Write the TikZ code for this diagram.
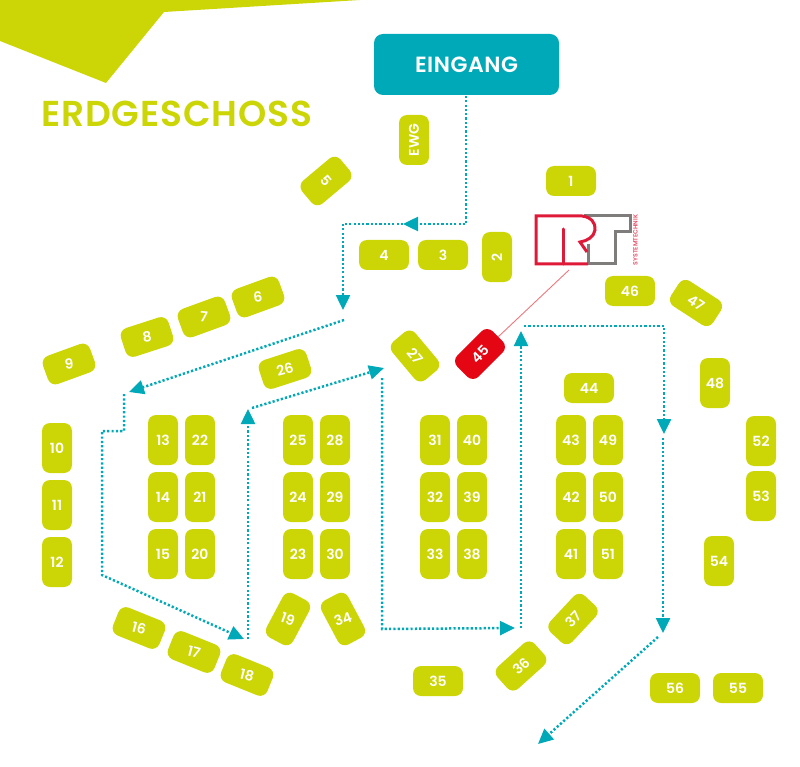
\documentclass[tikz,border=0pt]{standalone}
\usepackage{fontspec}
\setmainfont{Poppins}[BoldFont={Poppins SemiBold}]
\newfontfamily\widefont{Poppins SemiBold}[LetterSpace=2.5]
\usetikzlibrary{arrows.meta}
\definecolor{lime}{HTML}{CCD607}
\definecolor{teal1}{HTML}{00A9B7}
\definecolor{red1}{HTML}{E40613}
\definecolor{rtred}{HTML}{DF1A38}
\definecolor{rtgray}{HTML}{7F7C7C}
\tikzset{
  standbase/.style={fill=lime,draw=none,rounded corners=8,inner sep=0pt,text=white,font=\fontsize{14}{14}\selectfont\bfseries,anchor=center},
  hbox/.style={standbase,minimum width=50,minimum height=30},
  vbox/.style={standbase,minimum width=30,minimum height=50},
  standlabel/.style={text=white,font=\fontsize{14}{14}\selectfont\bfseries,inner sep=0pt},
  route/.style={draw=teal1,line width=2.5,dash pattern=on 2.2 off 2.1},
  arrowroute/.style={route,-{Triangle[length=15,width=14,color=teal1,fill=teal1]}},
}
\newcommand{\stand}[6]{% name, x, y, box rotation, text rotation, label
  \node[hbox,rotate=#4] (#1) at (#2,#3) {};
  \node[standlabel,rotate=#5] (#1t) at (#2,#3) {#6};
}
\begin{document}
\begin{tikzpicture}[x=1pt,y=-1pt]
\useasboundingbox (0,0) rectangle (800,767);
% banner
\fill[lime] (0,0) -- (360,0) -- (164,12) -- (106,83) -- (0,41) -- cycle;
\node[anchor=base west,inner sep=0pt,text=lime,font=\fontsize{36}{36}\widefont] (title) at (41,126.5) {ERDGESCHOSS};
% entrance
\node[fill=teal1,rounded corners=9,minimum width=185,minimum height=61,inner sep=0pt,text=white,font=\fontsize{22}{22}\widefont] (eingang) at (466.5,64.5) {\raisebox{-2pt}{EINGANG}};
% vertical, straight
\foreach \n/\x/\y in {10/57/448,11/57/505,12/57/562,
  13/163/440,22/200/440,14/163/497,21/200/497,15/163/554,20/200/554,
  25/298/440,28/335/440,24/298/497,29/335/497,23/298/554,30/335/554,
  31/435/440,40/472/440,32/435/497,39/472/497,33/435/554,38/472/554,
  43/571/440,49/608/440,42/571/497,50/608/497,41/571/554,51/608/554,
  48/715/383,52/761/441,53/761/496,54/719/561}
  \node[vbox] (s\n) at (\x,\y) {\n};
\node[vbox] (s2) at (497,257) {\rotatebox{90}{2}};
\node[vbox] (ewg) at (414,140) {\rotatebox{90}{EWG}};
% horizontal, straight
\foreach \n/\x/\y in {1/571/181,3/443/255,4/384/255,35/438/681,44/589/388,46/630/291,55/738/688,56/675/688}
  \node[hbox] (s\n) at (\x,\y) {\n};
% rotated
\stand{s5}{326}{181}{40}{-50}{5}
\stand{s6}{258}{297}{20}{5}{6}
\stand{s7}{204}{317}{20}{-5}{7}
\stand{s8}{147}{337}{18}{8}{8}
\stand{s9}{69}{364}{20}{5}{9}
\stand{s26}{285}{369}{18}{15}{26}
\stand{s16}{139}{628}{-22}{-15}{16}
\stand{s17}{194}{652}{-22}{-15}{17}
\stand{s18}{247}{675}{-22}{-15}{18}
\stand{s19}{288}{619}{62}{-20}{19}
\stand{s34}{343}{619}{-62}{20}{34}
\stand{s27}{415}{356}{-50}{-50}{27}
\stand{s36}{521}{666}{42}{42}{36}
\stand{s37}{573}{619}{47}{47}{37}
\stand{s47}{696}{303}{-33}{-33}{47}
\node[hbox,rotate=45,fill=red1] (s45) at (480,354) {};
\node[standlabel,rotate=45] (s45t) at (480,354) {45};
% logo
\coordinate (logoanchor) at (569,270);
\draw[rtgray,line width=3,line join=miter] (584,216) -- (630.5,216) -- (630.5,232) -- (615,232) -- (615,264) -- (588,264) -- (588,244);
\draw[rtred,line width=3,line join=miter] (588,264) -- (536,264) -- (536,216) -- (582,216)
  .. controls (591,217) and (596,223) .. (595,230) .. controls (594,237) and (587,241) .. (580,242) -- (587,252);
\draw[rtred,line width=3,line cap=round] (563.5,264) -- (563.5,229);
\node[rotate=90,inner sep=0pt,text=rtred!75,font=\fontsize{6.2}{6.2}\selectfont\bfseries] (logotext) at (635.5,240) {SYSTEMTECHNIK};
\draw[color=red1!55,line width=0.9] (logoanchor) -- (s45);
% route waypoints
\coordinate (a0) at (466,96);
\coordinate (a1) at (466,224);
\coordinate (a2) at (403,224);
\coordinate (a4) at (343,224);
\coordinate (a5) at (343,310);
\coordinate (b0) at (344,320);
\coordinate (b1) at (129,392);
\coordinate (c0) at (124,394);
\coordinate (c1) at (124,431);
\coordinate (c2) at (102,431);
\coordinate (c3) at (102,575);
\coordinate (c4) at (244,639);
\coordinate (d0) at (248,639);
\coordinate (d1) at (248,409);
\coordinate (e0) at (252,408);
\coordinate (e1) at (384,368);
\coordinate (f0) at (382,378);
\coordinate (f1) at (382,629);
\coordinate (f2) at (515,628);
\coordinate (g0) at (521,628);
\coordinate (g1) at (521,331);
\coordinate (h0) at (524,326);
\coordinate (h1) at (664,326);
\coordinate (h2) at (664,434);
\coordinate (i0) at (663,438);
\coordinate (i1) at (663,633);
\coordinate (j0) at (658,637);
\coordinate (j1) at (538,744);
% routes
\draw[arrowroute] (a0) -- (a1) -- (a2);
\draw[route] (a2) -- (a4);
\draw[arrowroute] (a4) -- (a5);
\draw[arrowroute] (b0) -- (b1);
\draw[arrowroute] (c0) -- (c1) -- (c2) -- (c3) -- (c4);
\draw[arrowroute] (d0) -- (d1);
\draw[arrowroute] (e0) -- (e1);
\draw[arrowroute] (f0) -- (f1) -- (f2);
\draw[arrowroute] (g0) -- (g1);
\draw[arrowroute] (h0) -- (h1) -- (h2);
\draw[arrowroute] (i0) -- (i1);
\draw[arrowroute] (j0) -- (j1);
\end{tikzpicture}
\end{document}
